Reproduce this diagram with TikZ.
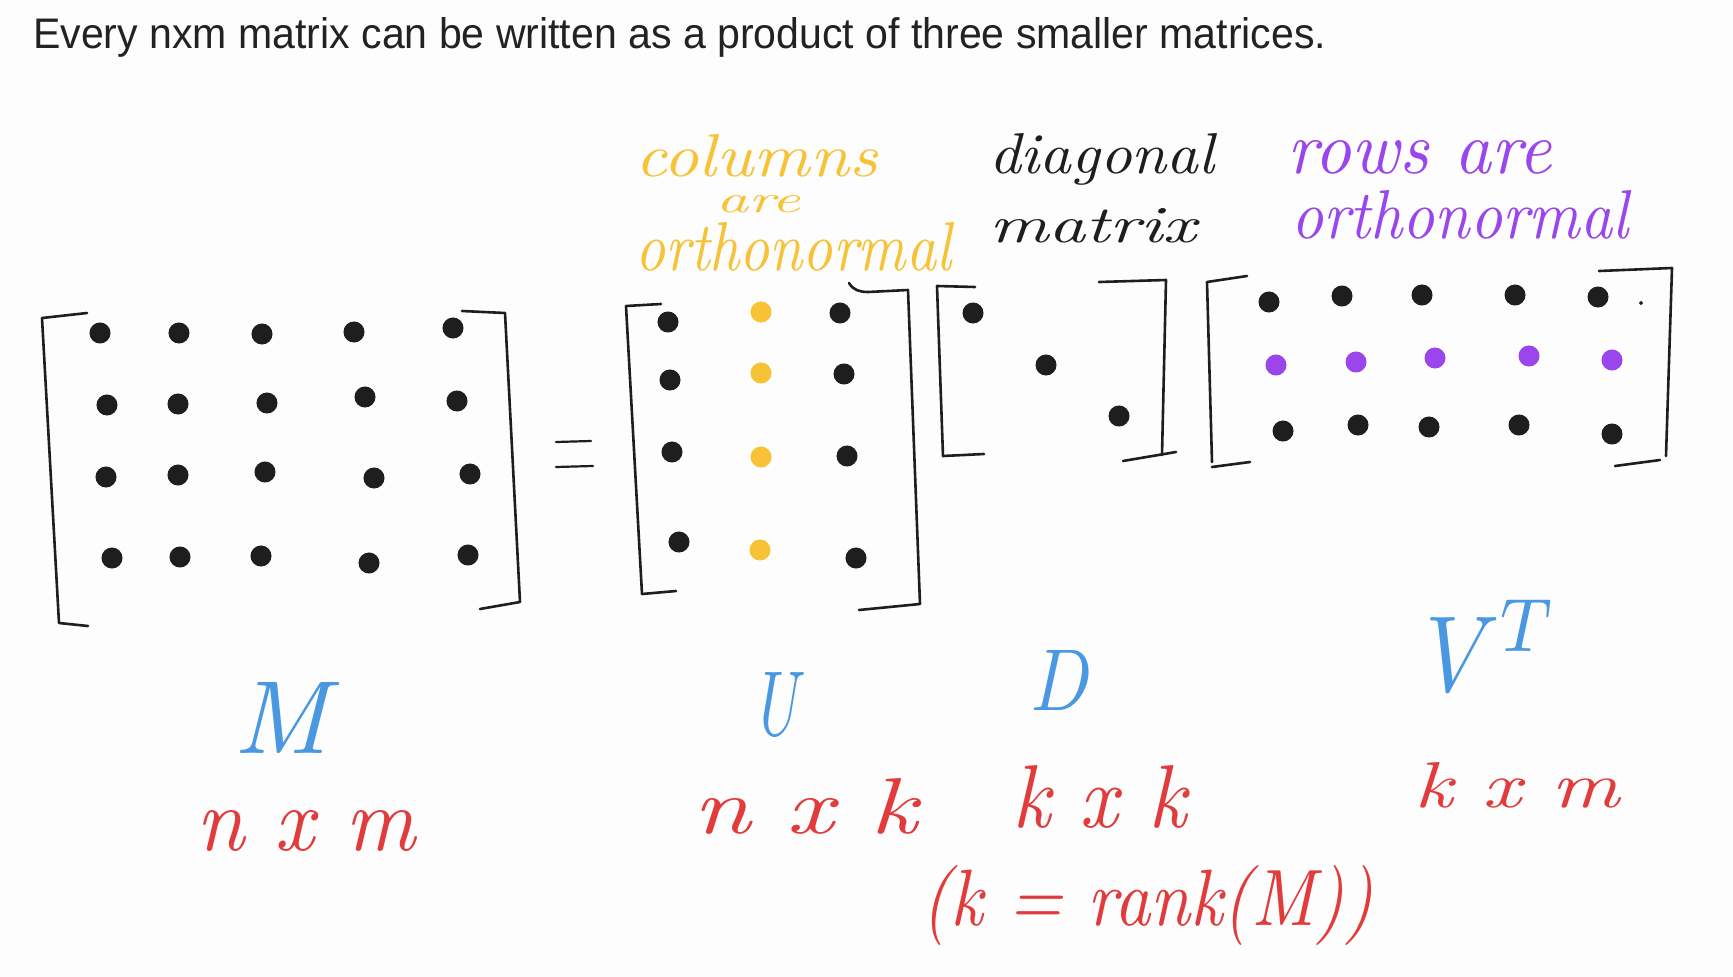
\documentclass[tikz,border=0pt]{standalone}
\usepackage{fontspec}
\usepackage{graphicx}
\newfontfamily\titlefont{Liberation Sans}
\definecolor{ink}{HTML}{1E1E1E}
\definecolor{titleink}{HTML}{222222}
\definecolor{hwyellow}{HTML}{F7C236}
\definecolor{hwpurple}{HTML}{9B45EC}
\definecolor{hwblue}{HTML}{4A98E2}
\definecolor{hwred}{HTML}{E23B3B}
\definecolor{bg}{HTML}{FDFDFD}
\newcommand{\hwtext}[3]{\resizebox{#1pt}{#2pt}{\itshape #3}}
\begin{document}
\begin{tikzpicture}[x=1pt,y=-1pt,
  bracket/.style={draw=ink,line width=2.6pt,line cap=round,line join=round},
  mdot/.style={circle,fill=ink,draw=ink,line width=1pt,inner sep=0pt,minimum size=20pt},
  ydot/.style={mdot,fill=hwyellow,draw=hwyellow},
  pdot/.style={mdot,fill=hwpurple,draw=hwpurple},
  hw/.style={inner sep=0pt,anchor=base west},
  yel/.style={hw,text=hwyellow},
  pur/.style={hw,text=hwpurple},
  blk/.style={hw,text=ink},
  blu/.style={hw,text=hwblue},
  rd/.style={hw,text=hwred}
]
\useasboundingbox (0,0) rectangle (1733,977);
\fill[bg] (0,0) rectangle (1733,977);

% title
\node[anchor=base west,inner sep=0pt,text=titleink] (title) at (33,48)
  {\resizebox{1293pt}{31pt}{\titlefont\fontsize{42}{50}\selectfont Every nxm matrix can be written as a product of three smaller matrices.}};

% ---------- M ----------
\draw[bracket] (87,313) -- (42,318) -- (59,623) -- (88,626);
\draw[bracket] (462,311) -- (505,313) -- (520,602) -- (480,609);
\node[mdot] (m11) at (100,333) {};
\node[mdot] (m12) at (179,333) {};
\node[mdot] (m13) at (262,334) {};
\node[mdot] (m14) at (354,332) {};
\node[mdot] (m15) at (453,328) {};
\node[mdot] (m21) at (107,405) {};
\node[mdot] (m22) at (178,404) {};
\node[mdot] (m23) at (267,403) {};
\node[mdot] (m24) at (365,397) {};
\node[mdot] (m25) at (457,401) {};
\node[mdot] (m31) at (106,477) {};
\node[mdot] (m32) at (178,475) {};
\node[mdot] (m33) at (265,472) {};
\node[mdot] (m34) at (374,478) {};
\node[mdot] (m35) at (470,474) {};
\node[mdot] (m41) at (112,558) {};
\node[mdot] (m42) at (180,557) {};
\node[mdot] (m43) at (261,556) {};
\node[mdot] (m44) at (369,563) {};
\node[mdot] (m45) at (468,555) {};

% equals sign
\draw[bracket,line width=2.2pt] (556,442) -- (591,441);
\draw[bracket,line width=2.2pt] (556,467) -- (593,466);

% ---------- U ----------
\draw[bracket] (661,304) -- (626,306) -- (642,594) -- (676,591);
\draw[bracket] (849,283) to[out=-60,in=180] (868,292) -- (908,290) -- (920,604) -- (859,610);
\node[mdot] (u11) at (668,322) {};
\node[ydot] (u12) at (761,312) {};
\node[mdot] (u13) at (840,313) {};
\node[mdot] (u21) at (670,380) {};
\node[ydot] (u22) at (761,373) {};
\node[mdot] (u23) at (844,374) {};
\node[mdot] (u31) at (672,452) {};
\node[ydot] (u32) at (761,457) {};
\node[mdot] (u33) at (847,456) {};
\node[mdot] (u41) at (679,542) {};
\node[ydot] (u42) at (760,550) {};
\node[mdot] (u43) at (856,558) {};

% ---------- D ----------
\draw[bracket] (975,287) -- (937,286) -- (943,456) -- (984,454);
\draw[bracket] (1099,282) -- (1166,280) -- (1162,455);
\draw[bracket] (1123,461) -- (1176,452);
\node[mdot] (d11) at (973,313) {};
\node[mdot] (d22) at (1046,365) {};
\node[mdot] (d33) at (1119,416) {};

% ---------- V^T ----------
\draw[bracket] (1247,276) -- (1207,282) -- (1212,462);
\draw[bracket] (1212,467) -- (1250,462);
\draw[bracket] (1599,271) -- (1672,268) -- (1666,456);
\draw[bracket] (1615,466) -- (1660,460);
\node[mdot] (v11) at (1269,302) {};
\node[mdot] (v12) at (1342,296) {};
\node[mdot] (v13) at (1422,295) {};
\node[mdot] (v14) at (1515,295) {};
\node[mdot] (v15) at (1598,297) {};
\node[pdot] (v21) at (1276,365) {};
\node[pdot] (v22) at (1356,362) {};
\node[pdot] (v23) at (1435,358) {};
\node[pdot] (v24) at (1529,356) {};
\node[pdot] (v25) at (1612,360) {};
\node[mdot] (v31) at (1283,431) {};
\node[mdot] (v32) at (1358,425) {};
\node[mdot] (v33) at (1429,427) {};
\node[mdot] (v34) at (1519,425) {};
\node[mdot] (v35) at (1612,434) {};
\node[mdot,minimum size=3pt] (vmark) at (1641,303) {};

% ---------- annotations ----------
\node[yel] (lcol) at (635,176) {\hwtext{242}{42}{columns}};
\node[yel] (lare) at (716,212) {\hwtext{84}{17}{are}};
\node[yel] (lorth) at (635,270) {\hwtext{316}{48}{orthonormal}};
\node[blk] (ldiag) at (989,173) {\hwtext{225}{40}{diagonal}};
\node[blk] (lmat) at (989,242) {\hwtext{207}{34}{matrix}};
\node[pur] (lrows) at (1287,173) {\hwtext{264}{33}{rows are}};
\node[pur] (lorth2) at (1291,238) {\hwtext{337}{48}{orthonormal}};

\node[blu] (nM) at (233,753) {\hwtext{95}{71}{M}};
\node[blu] (nU) at (751,735) {\hwtext{46}{63}{U}};
\node[blu] (nD) at (1029,710) {\hwtext{58}{60}{D}};
\node[blu] (nV) at (1425,691) {\resizebox{133pt}{91pt}{$V^{T}$}};

\node[rd] (dM) at (196,850) {\hwtext{219}{40}{n x m}};
\node[rd] (dU) at (693,833) {\hwtext{224}{55}{n x k}};
\node[rd] (dD) at (1012,827) {\hwtext{174}{62}{k x k}};
\node[rd] (dV) at (1414,807) {\hwtext{205}{45}{k x m}};
\node[rd] (rank) at (921,925) {\hwtext{452}{60}{(k = rank(M))}};
\end{tikzpicture}
\end{document}
